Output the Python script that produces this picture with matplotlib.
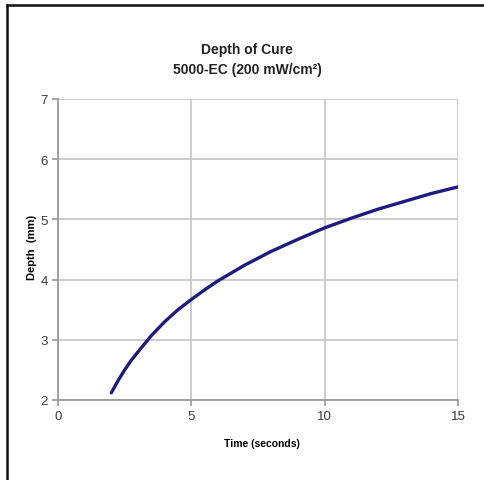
import numpy as np
import matplotlib.pyplot as plt
from matplotlib.lines import Line2D

# values
time_s = [2, 2.25, 2.5, 2.75, 3, 3.5, 4, 4.5, 5, 5.5, 6, 7, 8, 9, 10, 11, 12, 13, 14, 15]
depth_mm = [2.12, 2.32, 2.50, 2.66, 2.80, 3.07, 3.30, 3.50, 3.67, 3.83, 3.98, 4.24,
            4.47, 4.67, 4.86, 5.02, 5.17, 5.30, 5.43, 5.54]

plt.rcParams['font.family'] = ['Liberation Sans', 'DejaVu Sans']

fig = plt.figure(figsize=(4.84, 4.81), dpi=100)
W, H = 484, 481
ax = fig.add_axes([58 / W, 1 - 401 / H, 400 / W, 301 / H])

ax.plot(time_s, depth_mm, color='#1c1c80', lw=2.4, solid_capstyle='round',
        solid_joinstyle='round')

ax.set_xlim(0, 15)
ax.set_ylim(2, 7)
ax.set_xticks([0, 5, 10, 15])
ax.set_yticks([2, 3, 4, 5, 6, 7])
ax.grid(True, color='#c8c8c8', lw=1.3)
ax.set_axisbelow(True)
for s in ['top', 'right']:
    ax.spines[s].set_visible(False)
for s in ['left', 'bottom']:
    ax.spines[s].set_color('#9a9a9a')
    ax.spines[s].set_linewidth(1.3)
ax.tick_params(colors='#9a9a9a', labelcolor='#3a3a3a', labelsize=9.5, length=4, width=1.2)

ax.set_xlabel('Time (seconds)', fontsize=7.5, fontweight='bold')
ax.xaxis.set_label_coords(0.51, -0.125)
ax.set_ylabel('Depth  (mm)', fontsize=8, fontweight='bold')
ax.yaxis.set_label_coords(-0.053, 0.51)

fig.text(247 / W, 1 - 50 / H, 'Depth of Cure', ha='center', va='center',
         fontsize=10, fontweight='bold', color='#222222')
fig.text(247 / W, 1 - 70 / H, '5000-EC (200 mW/cm²)', ha='center', va='center',
         fontsize=10, fontweight='bold', color='#222222')

# outer frame (left and top edges only are visible)
fig.add_artist(Line2D([7 / W, 7 / W], [0, 1 - 6 / H], color='#111111', lw=1.8,
                      transform=fig.transFigure))
fig.add_artist(Line2D([7 / W, 1], [1 - 6 / H, 1 - 6 / H], color='#111111', lw=1.8,
                      transform=fig.transFigure))

fig.savefig('out.png', dpi=100)
